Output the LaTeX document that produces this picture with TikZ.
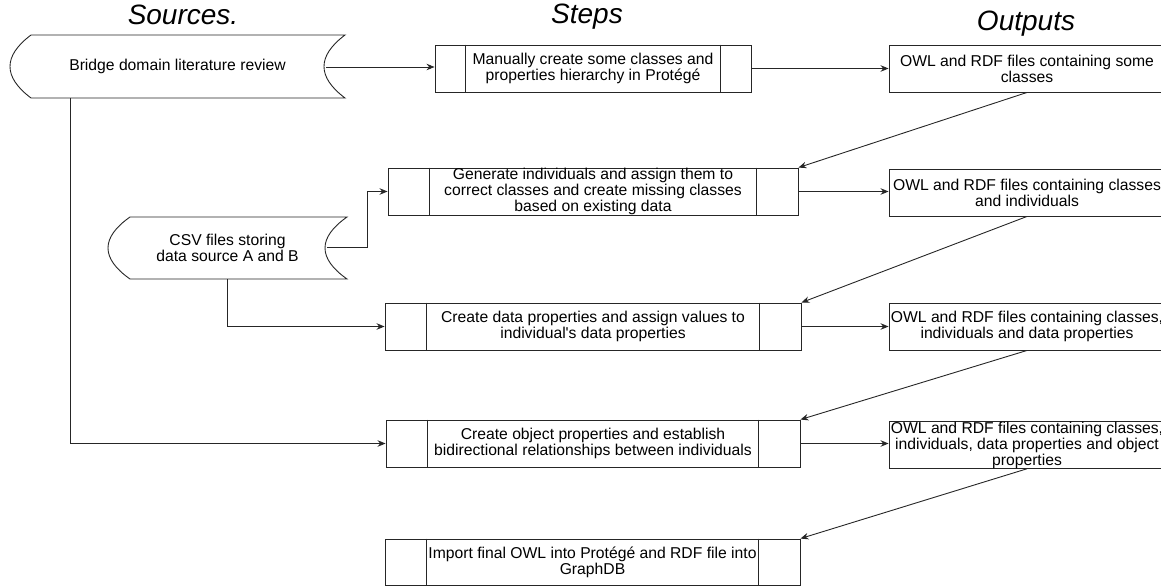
\documentclass[tikz,border=0pt]{standalone}
\usepackage{fontspec}
\setmainfont{Liberation Sans}
\usetikzlibrary{arrows.meta,calc}
\newcommand\bodyfont{\fontsize{15.7}{16}\selectfont}
\newcommand\headfont{\fontsize{28}{30}\selectfont\itshape}
\tikzset{
  line/.style={draw=black!85, line width=0.9pt},
  arr/.style={line, -{Stealth[length=8pt,width=6.5pt]}},
  procbox/.style={line, minimum height=47pt, inner sep=0pt, align=center, font=\bodyfont},
  outbox/.style={line, minimum width=276pt, minimum height=47pt, inner sep=0pt, align=center, font=\bodyfont},
  srctext/.style={inner sep=0pt, align=center, font=\bodyfont},
  head/.style={font=\headfont, anchor=base, inner sep=0pt},
}
\newcommand\innerbars[2]{%
  \draw[line] ([xshift=#2]#1.north west) -- ([xshift=#2]#1.south west);
  \draw[line] ([xshift=-#2]#1.north east) -- ([xshift=-#2]#1.south east);}
% west x, east x, top y, bottom y, depth
\newcommand\datashape[5]{%
  \draw[line] ({#1+#5},#3) -- (#2,#3)
    .. controls ({#2-4*#5/3},{#3+(#4-#3)/3}) and ({#2-4*#5/3},{#4-(#4-#3)/3}) .. (#2,#4)
    -- ({#1+#5},#4)
    .. controls ({#1+#5-4*#5/3},{#4-(#4-#3)/3}) and ({#1+#5-4*#5/3},{#3+(#4-#3)/3}) .. cycle;}
\begin{document}
\begin{tikzpicture}[x=1pt,y=-1pt]
\path[use as bounding box] (0,0) rectangle (1161,586);
\clip (0,0) rectangle (1161,586);
% headers
\node[head] (hsrc) at (183,25) {Sources.};
\node[head] (hstep) at (587,24) {Steps};
\node[head] (hout) at (1026,31) {Outputs};
% sources
\datashape{10}{345}{35}{98}{21}
\node[srctext, minimum width=335pt, minimum height=63pt] (src1) at (177.5,66.5) {Bridge domain literature review};
\coordinate (src1r) at (326,67);
\coordinate (src1b) at (70,98);
\datashape{108}{347}{217}{279}{22}
\node[srctext, minimum width=239pt, minimum height=62pt] (csv) at (227.5,248) {CSV files storing\\data source A and B};
\coordinate (csvr) at (327,247);
% steps
\node[procbox, minimum width=316pt] (s1) at (593,68.5) {Manually create some classes and\\properties hierarchy in Protégé};
\innerbars{s1}{31pt}
\node[procbox, minimum width=410pt] (s2) at (593,191.5) {Generate individuals and assign them to\\correct classes and create missing classes\\based on existing data};
\innerbars{s2}{42pt}
\node[procbox, minimum width=416pt] (s3) at (593,326.5) {Create data properties and assign values to\\individual\textquotesingle s data properties};
\innerbars{s3}{42pt}
\node[procbox, minimum width=414pt] (s4) at (593,443.5) {Create object properties and establish\\bidirectional relationships between individuals};
\innerbars{s4}{42pt}
\node[procbox, minimum width=415pt, minimum height=46pt] (s5) at (592.5,562) {Import final OWL into Protégé and RDF file into\\GraphDB};
\innerbars{s5}{42pt}
% outputs
\node[outbox] (o1) at (1027,68.5) {OWL and RDF files containing some\\classes};
\node[outbox] (o2) at (1027,192.5) {OWL and RDF files containing classes\\and individuals};
\node[outbox] (o3) at (1027,326.5) {OWL and RDF files containing classes,\\individuals and data properties};
\node[outbox, minimum height=46pt] (o4) at (1027,445) {OWL and RDF files containing classes,\\individuals, data properties and object\\properties};
% connectors
\draw[arr] (src1r) -- (src1r -| s1.west);
\draw[arr] (s1.east) -- (o1.west);
\draw[arr] (o1.south) -- (s2.north east);
\draw[arr] (s2.east) -- (s2.east -| o2.west);
\draw[arr] (csvr) -- ++(40,0) |- (s2.west);
\draw[arr] (csv.south) |- (s3.west);
\draw[arr] (o2.south) -- (s3.north east);
\draw[arr] (s3.east) -- (o3.west);
\draw[arr] (src1b) |- (s4.west);
\draw[arr] (o3.south) -- (s4.north east);
\draw[arr] (s4.east) -- (s4.east -| o4.west);
\draw[arr] (o4.south) -- (s5.north east);
\end{tikzpicture}
\end{document}
